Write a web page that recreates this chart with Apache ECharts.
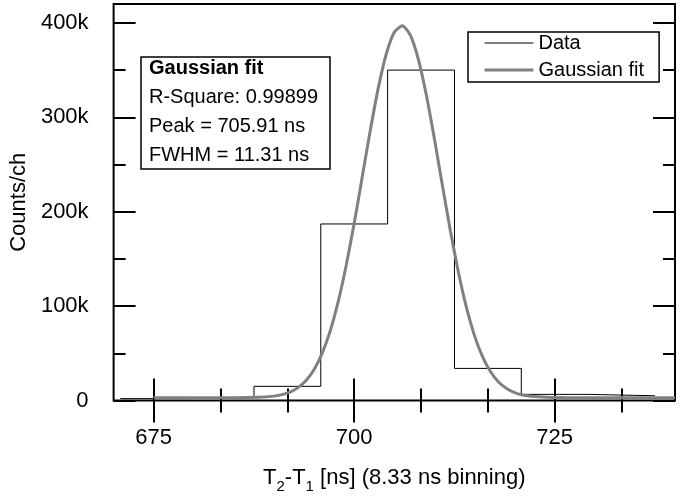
<!DOCTYPE html>
<html>
<head>
<meta charset="utf-8">
<script src="https://cdn.jsdelivr.net/npm/echarts@6/dist/echarts.min.js"></script>
<style>
html,body{margin:0;padding:0;background:#fff;}
#c{width:696px;height:499px;}
</style>
</head>
<body>
<div id="c"></div>
<script>
// ---- data ----
const binCenters = [675, 683.33, 691.67, 700, 708.33, 716.67, 725, 733.33];
const counts = [2000, 3500, 15000, 187000, 350000, 34000, 6500, 5000];
const binWidth = 8.333;

const fitX = [675, 680, 685, 688, 690, 691, 692, 693, 694, 695, 696, 697, 698, 699, 700, 701, 702, 703, 704, 705, 706, 707, 708, 709, 710, 711, 712, 713, 714, 715, 716, 717, 718, 719, 720, 721, 722, 724, 726, 730, 735, 740];
const fitY = [3000, 3000, 3030, 3380, 4630, 6190, 8950, 13640, 21220, 32850, 49890, 73520, 104530, 143000, 187830, 236640, 285890, 330930, 367060, 390000, 396930, 387000, 361420, 323360, 277180, 227740, 179350, 135540, 98390, 68720, 46380, 30410, 19580, 12610, 8330, 5830, 4440, 3330, 3060, 3000, 3000, 3000];

const xMajorTicks = [675, 700, 725];
const xMinorTicks = [683.333, 691.667, 708.333, 716.667, 733.333];
const yMajorTicks = [0, 100000, 200000, 300000, 400000];
const yMinorTicks = [50000, 150000, 250000, 350000];

const fitInfo = ['Gaussian fit', 'R-Square: 0.99899', 'Peak = 705.91 ns', 'FWHM = 11.31 ns'];

// ---- build ----
const stepData = binCenters.map((c, i) => [c - binWidth / 2, counts[i]]);
stepData.push([binCenters[binCenters.length - 1] + binWidth / 2, counts[counts.length - 1]]);
const fitData = fitX.map((x, i) => [x, fitY[i]]);

const FONT = '"Liberation Sans", Arial, sans-serif';
const X_MIN = 670, X_MAX = 740, Y_MIN = 0, Y_MAX = 420000;
const FIT_COLOR = '#808080';

function xAx(pos, ticks, len, labels, extra) {
  return Object.assign({
    type: 'value', min: X_MIN, max: X_MAX, position: pos,
    axisLine: {show: false}, splitLine: {show: false},
    axisTick: {show: true, inside: true, length: len, customValues: ticks, lineStyle: {color: '#000', width: 2}},
    axisLabel: labels ? {show: true, customValues: labels, fontSize: 22, color: '#000', margin: 26, fontFamily: FONT} : {show: false}
  }, extra || {});
}
function yAx(pos, ticks, len, labels, extra) {
  return Object.assign({
    type: 'value', min: Y_MIN, max: Y_MAX, position: pos,
    axisLine: {show: false}, splitLine: {show: false},
    axisTick: {show: true, inside: true, length: len, customValues: ticks, lineStyle: {color: '#000', width: 2}},
    axisLabel: labels ? {show: true, customValues: labels, fontSize: 22, color: '#000', margin: 25, fontFamily: FONT,
      formatter: v => v === 0 ? '0' : (v / 1000) + 'k'} : {show: false}
  }, extra || {});
}

const chart = echarts.init(document.getElementById('c'), null, {renderer: 'canvas'});
chart.setOption({
  animation: false,
  backgroundColor: '#fff',
  textStyle: {fontFamily: FONT},
  grid: {left: 113, right: 21, top: 4, bottom: 92, show: true, borderColor: '#000', borderWidth: 2, backgroundColor: 'transparent'},
  title: {
    left: 141, top: 52,
    text: '{b|' + fitInfo[0] + '}\n{n|' + fitInfo[1] + '}\n{n|' + fitInfo[2] + '}\n{n|' + fitInfo[3] + '}',
    borderColor: '#000', borderWidth: 1.5, padding: [2, 12, 4, 8],
    textStyle: {
      fontFamily: FONT, fontWeight: 'normal',
      rich: {
        b: {fontSize: 20, fontWeight: 'bold', color: '#000', lineHeight: 29, fontFamily: FONT},
        n: {fontSize: 20, fontWeight: 'normal', color: '#000', lineHeight: 29, fontFamily: FONT}
      }
    }
  },
  legend: {
    orient: 'vertical', left: 468, top: 32,
    borderColor: '#000', borderWidth: 1.5, padding: [0, 15, 1, 15],
    itemWidth: 49, itemHeight: 14, itemGap: 5,
    itemStyle: {opacity: 0},
    textStyle: {fontSize: 20, color: '#000', lineHeight: 22, fontFamily: FONT},
    data: [
      {name: 'Data', lineStyle: {color: '#000', width: 1}},
      {name: 'Gaussian fit', lineStyle: {color: FIT_COLOR, width: 3}}
    ]
  },
  xAxis: [
    xAx('bottom', xMajorTicks, 22, xMajorTicks, {
      name: '{a|T}{s|2}{a|-T}{s|1}{a| [ns] (8.33 ns binning)}',
      nameLocation: 'middle', nameGap: 62,
      nameTextStyle: {
        color: '#000', fontSize: 22, fontFamily: FONT,
        rich: {
          a: {fontSize: 22, color: '#000', fontFamily: FONT, lineHeight: 30, verticalAlign: 'middle'},
          s: {fontSize: 15, color: '#000', fontFamily: FONT, lineHeight: 30, verticalAlign: 'middle', padding: [18, 0, 0, 0]}
        }
      }
    }),
    xAx('bottom', xMinorTicks, 12, null),
    xAx('top', xMajorTicks, 22, null),
    xAx('top', xMinorTicks, 12, null)
  ],
  yAxis: [
    yAx('left', yMajorTicks, 22, yMajorTicks, {
      name: 'Counts/ch', nameLocation: 'middle', nameGap: 78,
      nameTextStyle: {color: '#000', fontSize: 22, fontFamily: FONT}
    }),
    yAx('left', yMinorTicks, 12, null),
    yAx('right', yMajorTicks, 22, null),
    yAx('right', yMinorTicks, 12, null)
  ],
  series: [
    {
      name: 'Data', type: 'line', xAxisIndex: 0, yAxisIndex: 0,
      step: 'end', data: stepData, showSymbol: false, symbol: 'none',
      lineStyle: {color: '#000', width: 1}, itemStyle: {color: '#000'}, z: 2
    },
    {
      name: 'Gaussian fit', type: 'line', xAxisIndex: 0, yAxisIndex: 0,
      data: fitData, showSymbol: false, symbol: 'none', smooth: 0.2,
      lineStyle: {color: FIT_COLOR, width: 3}, itemStyle: {color: FIT_COLOR}, z: 3
    }
  ]
});
</script>
</body>
</html>
